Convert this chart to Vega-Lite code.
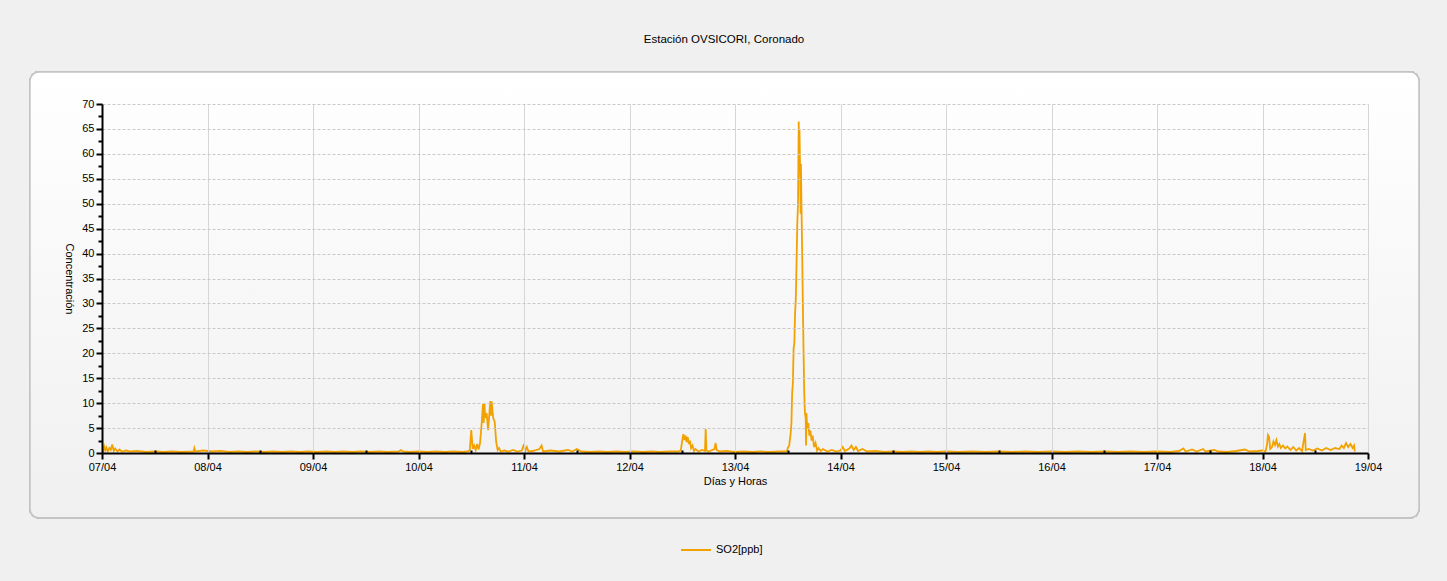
{
  "$schema": "https://vega.github.io/schema/vega-lite/v6.json",
  "width": 1266,
  "height": 349,
  "autosize": {"type": "none"},
  "padding": {"left": 102, "top": 104, "right": 79, "bottom": 128},
  "background": "#f0f0f0",
  "config": {
    "font": "Liberation Sans",
    "view": {"stroke": null},
    "axis": {"labelFont": "Liberation Sans", "titleFont": "Liberation Sans", "labelFontSize": 11, "titleFontSize": 11, "labelColor": "#000", "titleColor": "#000", "titleFontWeight": "normal", "domainColor": "#000", "domainWidth": 2, "tickColor": "#000", "tickWidth": 2, "zindex": 1}
  },
  "title": {"text": "Estación OVSICORI, Coronado", "fontSize": 11.5, "fontWeight": "normal", "color": "#000", "font": "Liberation Sans", "anchor": "middle", "offset": 26, "dx": -11},
  "data": {"values": [
    {"t": "2024-04-07T00:00", "v": 0.9},
    {"t": "2024-04-07T00:15", "v": 0.4},
    {"t": "2024-04-07T00:30", "v": 1.3},
    {"t": "2024-04-07T00:45", "v": 0.5},
    {"t": "2024-04-07T01:00", "v": 1.1},
    {"t": "2024-04-07T01:20", "v": 0.3},
    {"t": "2024-04-07T01:40", "v": 1.0},
    {"t": "2024-04-07T02:00", "v": 0.6},
    {"t": "2024-04-07T02:20", "v": 1.7},
    {"t": "2024-04-07T02:40", "v": 0.4},
    {"t": "2024-04-07T03:00", "v": 0.9},
    {"t": "2024-04-07T03:30", "v": 0.3},
    {"t": "2024-04-07T04:00", "v": 0.7},
    {"t": "2024-04-07T04:30", "v": 0.3},
    {"t": "2024-04-07T05:30", "v": 0.5},
    {"t": "2024-04-07T06:30", "v": 0.3},
    {"t": "2024-04-07T08:00", "v": 0.4},
    {"t": "2024-04-07T10:00", "v": 0.2},
    {"t": "2024-04-07T12:00", "v": 0.3},
    {"t": "2024-04-07T14:00", "v": 0.2},
    {"t": "2024-04-07T16:00", "v": 0.3},
    {"t": "2024-04-07T18:00", "v": 0.2},
    {"t": "2024-04-07T20:50", "v": 0.3},
    {"t": "2024-04-07T21:00", "v": 1.0},
    {"t": "2024-04-07T21:15", "v": 0.3},
    {"t": "2024-04-07T23:00", "v": 0.5},
    {"t": "2024-04-08T01:00", "v": 0.3},
    {"t": "2024-04-08T03:00", "v": 0.4},
    {"t": "2024-04-08T05:00", "v": 0.2},
    {"t": "2024-04-08T07:00", "v": 0.3},
    {"t": "2024-04-08T09:00", "v": 0.2},
    {"t": "2024-04-08T11:00", "v": 0.3},
    {"t": "2024-04-08T13:00", "v": 0.2},
    {"t": "2024-04-08T15:00", "v": 0.3},
    {"t": "2024-04-08T17:00", "v": 0.2},
    {"t": "2024-04-08T19:00", "v": 0.3},
    {"t": "2024-04-08T21:00", "v": 0.2},
    {"t": "2024-04-08T23:00", "v": 0.3},
    {"t": "2024-04-09T01:00", "v": 0.2},
    {"t": "2024-04-09T03:00", "v": 0.3},
    {"t": "2024-04-09T05:00", "v": 0.2},
    {"t": "2024-04-09T07:00", "v": 0.3},
    {"t": "2024-04-09T09:00", "v": 0.2},
    {"t": "2024-04-09T11:00", "v": 0.3},
    {"t": "2024-04-09T13:00", "v": 0.2},
    {"t": "2024-04-09T15:00", "v": 0.3},
    {"t": "2024-04-09T17:00", "v": 0.2},
    {"t": "2024-04-09T19:30", "v": 0.3},
    {"t": "2024-04-09T20:00", "v": 0.6},
    {"t": "2024-04-09T20:30", "v": 0.3},
    {"t": "2024-04-09T22:00", "v": 0.2},
    {"t": "2024-04-10T00:00", "v": 0.3},
    {"t": "2024-04-10T02:00", "v": 0.2},
    {"t": "2024-04-10T04:00", "v": 0.3},
    {"t": "2024-04-10T06:00", "v": 0.2},
    {"t": "2024-04-10T08:00", "v": 0.3},
    {"t": "2024-04-10T10:00", "v": 0.2},
    {"t": "2024-04-10T11:00", "v": 0.3},
    {"t": "2024-04-10T11:40", "v": 0.5},
    {"t": "2024-04-10T12:00", "v": 4.6},
    {"t": "2024-04-10T12:20", "v": 0.8},
    {"t": "2024-04-10T12:40", "v": 1.5},
    {"t": "2024-04-10T13:00", "v": 0.6},
    {"t": "2024-04-10T13:20", "v": 1.8},
    {"t": "2024-04-10T13:40", "v": 0.7},
    {"t": "2024-04-10T14:00", "v": 2.0},
    {"t": "2024-04-10T14:20", "v": 5.5},
    {"t": "2024-04-10T14:40", "v": 9.8},
    {"t": "2024-04-10T14:50", "v": 6.0},
    {"t": "2024-04-10T15:00", "v": 10.0},
    {"t": "2024-04-10T15:10", "v": 7.0},
    {"t": "2024-04-10T15:30", "v": 8.0},
    {"t": "2024-04-10T15:50", "v": 4.6},
    {"t": "2024-04-10T16:00", "v": 6.5},
    {"t": "2024-04-10T16:20", "v": 10.4},
    {"t": "2024-04-10T16:30", "v": 7.5},
    {"t": "2024-04-10T16:40", "v": 10.3},
    {"t": "2024-04-10T16:50", "v": 8.5},
    {"t": "2024-04-10T17:00", "v": 7.0},
    {"t": "2024-04-10T17:20", "v": 6.3},
    {"t": "2024-04-10T17:40", "v": 2.3},
    {"t": "2024-04-10T18:00", "v": 0.6},
    {"t": "2024-04-10T18:20", "v": 1.0},
    {"t": "2024-04-10T18:40", "v": 0.3},
    {"t": "2024-04-10T19:30", "v": 0.5},
    {"t": "2024-04-10T20:30", "v": 0.3},
    {"t": "2024-04-10T21:30", "v": 0.6},
    {"t": "2024-04-10T22:30", "v": 0.3},
    {"t": "2024-04-10T23:30", "v": 0.5},
    {"t": "2024-04-11T00:00", "v": 1.8},
    {"t": "2024-04-11T00:15", "v": 0.3},
    {"t": "2024-04-11T00:40", "v": 1.2},
    {"t": "2024-04-11T01:00", "v": 0.3},
    {"t": "2024-04-11T02:00", "v": 0.4},
    {"t": "2024-04-11T03:30", "v": 0.8},
    {"t": "2024-04-11T04:00", "v": 1.5},
    {"t": "2024-04-11T04:20", "v": 0.3},
    {"t": "2024-04-11T06:00", "v": 0.5},
    {"t": "2024-04-11T08:00", "v": 0.3},
    {"t": "2024-04-11T10:00", "v": 0.6},
    {"t": "2024-04-11T11:00", "v": 0.3},
    {"t": "2024-04-11T12:00", "v": 0.8},
    {"t": "2024-04-11T13:00", "v": 0.3},
    {"t": "2024-04-11T15:00", "v": 0.2},
    {"t": "2024-04-11T17:00", "v": 0.3},
    {"t": "2024-04-11T19:00", "v": 0.2},
    {"t": "2024-04-11T21:00", "v": 0.3},
    {"t": "2024-04-11T23:00", "v": 0.2},
    {"t": "2024-04-12T01:00", "v": 0.3},
    {"t": "2024-04-12T03:00", "v": 0.2},
    {"t": "2024-04-12T05:00", "v": 0.3},
    {"t": "2024-04-12T07:00", "v": 0.2},
    {"t": "2024-04-12T09:00", "v": 0.3},
    {"t": "2024-04-12T11:00", "v": 0.3},
    {"t": "2024-04-12T11:40", "v": 0.5},
    {"t": "2024-04-12T12:00", "v": 2.5},
    {"t": "2024-04-12T12:15", "v": 3.8},
    {"t": "2024-04-12T12:30", "v": 2.6},
    {"t": "2024-04-12T12:45", "v": 3.5},
    {"t": "2024-04-12T13:00", "v": 2.2},
    {"t": "2024-04-12T13:15", "v": 3.2},
    {"t": "2024-04-12T13:30", "v": 1.8},
    {"t": "2024-04-12T13:45", "v": 2.5},
    {"t": "2024-04-12T14:00", "v": 1.0},
    {"t": "2024-04-12T14:20", "v": 1.5},
    {"t": "2024-04-12T14:40", "v": 0.4},
    {"t": "2024-04-12T15:00", "v": 0.8},
    {"t": "2024-04-12T15:40", "v": 0.3},
    {"t": "2024-04-12T16:30", "v": 0.6},
    {"t": "2024-04-12T17:10", "v": 0.4},
    {"t": "2024-04-12T17:20", "v": 4.8},
    {"t": "2024-04-12T17:30", "v": 0.5},
    {"t": "2024-04-12T18:00", "v": 0.3},
    {"t": "2024-04-12T19:20", "v": 0.8},
    {"t": "2024-04-12T19:35", "v": 2.0},
    {"t": "2024-04-12T19:50", "v": 0.6},
    {"t": "2024-04-12T20:30", "v": 0.3},
    {"t": "2024-04-12T22:00", "v": 0.4},
    {"t": "2024-04-13T00:00", "v": 0.2},
    {"t": "2024-04-13T02:00", "v": 0.3},
    {"t": "2024-04-13T04:00", "v": 0.2},
    {"t": "2024-04-13T06:00", "v": 0.3},
    {"t": "2024-04-13T08:00", "v": 0.2},
    {"t": "2024-04-13T10:00", "v": 0.3},
    {"t": "2024-04-13T11:30", "v": 0.3},
    {"t": "2024-04-13T11:50", "v": 0.4},
    {"t": "2024-04-13T12:00", "v": 1.0},
    {"t": "2024-04-13T12:20", "v": 1.5},
    {"t": "2024-04-13T12:40", "v": 4.0},
    {"t": "2024-04-13T12:50", "v": 6.0},
    {"t": "2024-04-13T13:00", "v": 12.0},
    {"t": "2024-04-13T13:10", "v": 14.0},
    {"t": "2024-04-13T13:20", "v": 21.0},
    {"t": "2024-04-13T13:30", "v": 22.0},
    {"t": "2024-04-13T13:40", "v": 28.0},
    {"t": "2024-04-13T13:50", "v": 31.0},
    {"t": "2024-04-13T14:00", "v": 38.0},
    {"t": "2024-04-13T14:10", "v": 46.0},
    {"t": "2024-04-13T14:20", "v": 50.0},
    {"t": "2024-04-13T14:30", "v": 66.5},
    {"t": "2024-04-13T14:35", "v": 60.0},
    {"t": "2024-04-13T14:40", "v": 65.0},
    {"t": "2024-04-13T14:50", "v": 55.0},
    {"t": "2024-04-13T14:55", "v": 48.0},
    {"t": "2024-04-13T15:00", "v": 58.0},
    {"t": "2024-04-13T15:05", "v": 52.0},
    {"t": "2024-04-13T15:15", "v": 42.0},
    {"t": "2024-04-13T15:25", "v": 31.0},
    {"t": "2024-04-13T15:35", "v": 21.0},
    {"t": "2024-04-13T15:45", "v": 12.0},
    {"t": "2024-04-13T15:55", "v": 8.0},
    {"t": "2024-04-13T16:05", "v": 7.0},
    {"t": "2024-04-13T16:10", "v": 1.5},
    {"t": "2024-04-13T16:15", "v": 8.0},
    {"t": "2024-04-13T16:25", "v": 5.0},
    {"t": "2024-04-13T16:40", "v": 6.0},
    {"t": "2024-04-13T16:55", "v": 3.5},
    {"t": "2024-04-13T17:10", "v": 4.5},
    {"t": "2024-04-13T17:25", "v": 2.5},
    {"t": "2024-04-13T17:40", "v": 3.5},
    {"t": "2024-04-13T18:00", "v": 1.2},
    {"t": "2024-04-13T18:20", "v": 2.0},
    {"t": "2024-04-13T18:40", "v": 0.5},
    {"t": "2024-04-13T19:00", "v": 1.0},
    {"t": "2024-04-13T19:30", "v": 0.4},
    {"t": "2024-04-13T20:00", "v": 0.8},
    {"t": "2024-04-13T21:00", "v": 0.3},
    {"t": "2024-04-13T22:00", "v": 0.6},
    {"t": "2024-04-13T23:00", "v": 0.3},
    {"t": "2024-04-14T00:00", "v": 0.5},
    {"t": "2024-04-14T00:30", "v": 1.2},
    {"t": "2024-04-14T01:00", "v": 0.4},
    {"t": "2024-04-14T02:00", "v": 0.9},
    {"t": "2024-04-14T02:30", "v": 1.5},
    {"t": "2024-04-14T03:00", "v": 0.6},
    {"t": "2024-04-14T03:30", "v": 1.2},
    {"t": "2024-04-14T04:00", "v": 0.4},
    {"t": "2024-04-14T05:00", "v": 0.8},
    {"t": "2024-04-14T06:00", "v": 0.3},
    {"t": "2024-04-14T08:00", "v": 0.4},
    {"t": "2024-04-14T10:00", "v": 0.2},
    {"t": "2024-04-14T12:00", "v": 0.3},
    {"t": "2024-04-14T14:00", "v": 0.2},
    {"t": "2024-04-14T16:00", "v": 0.3},
    {"t": "2024-04-14T18:00", "v": 0.2},
    {"t": "2024-04-14T20:00", "v": 0.3},
    {"t": "2024-04-14T22:00", "v": 0.2},
    {"t": "2024-04-15T00:00", "v": 0.3},
    {"t": "2024-04-15T03:00", "v": 0.2},
    {"t": "2024-04-15T06:00", "v": 0.3},
    {"t": "2024-04-15T09:00", "v": 0.2},
    {"t": "2024-04-15T12:00", "v": 0.3},
    {"t": "2024-04-15T15:00", "v": 0.2},
    {"t": "2024-04-15T18:00", "v": 0.3},
    {"t": "2024-04-15T21:00", "v": 0.2},
    {"t": "2024-04-16T00:00", "v": 0.3},
    {"t": "2024-04-16T03:00", "v": 0.2},
    {"t": "2024-04-16T06:00", "v": 0.3},
    {"t": "2024-04-16T09:00", "v": 0.2},
    {"t": "2024-04-16T12:00", "v": 0.3},
    {"t": "2024-04-16T15:00", "v": 0.2},
    {"t": "2024-04-16T18:00", "v": 0.3},
    {"t": "2024-04-16T21:00", "v": 0.2},
    {"t": "2024-04-17T00:00", "v": 0.3},
    {"t": "2024-04-17T03:00", "v": 0.2},
    {"t": "2024-04-17T05:00", "v": 0.4},
    {"t": "2024-04-17T06:00", "v": 0.9},
    {"t": "2024-04-17T06:30", "v": 0.3},
    {"t": "2024-04-17T08:00", "v": 0.7},
    {"t": "2024-04-17T09:00", "v": 0.3},
    {"t": "2024-04-17T10:30", "v": 0.8},
    {"t": "2024-04-17T11:00", "v": 0.3},
    {"t": "2024-04-17T13:00", "v": 0.6},
    {"t": "2024-04-17T14:00", "v": 0.3},
    {"t": "2024-04-17T16:00", "v": 0.2},
    {"t": "2024-04-17T18:00", "v": 0.4},
    {"t": "2024-04-17T20:00", "v": 0.7},
    {"t": "2024-04-17T21:00", "v": 0.3},
    {"t": "2024-04-17T23:00", "v": 0.4},
    {"t": "2024-04-18T00:00", "v": 0.5},
    {"t": "2024-04-18T00:40", "v": 0.3},
    {"t": "2024-04-18T01:00", "v": 1.5},
    {"t": "2024-04-18T01:15", "v": 3.6},
    {"t": "2024-04-18T01:30", "v": 3.2},
    {"t": "2024-04-18T01:45", "v": 0.8},
    {"t": "2024-04-18T02:10", "v": 1.2},
    {"t": "2024-04-18T02:30", "v": 2.3},
    {"t": "2024-04-18T02:50", "v": 1.6},
    {"t": "2024-04-18T03:10", "v": 2.6},
    {"t": "2024-04-18T03:30", "v": 1.3},
    {"t": "2024-04-18T03:50", "v": 1.8},
    {"t": "2024-04-18T04:10", "v": 1.0},
    {"t": "2024-04-18T04:40", "v": 1.5},
    {"t": "2024-04-18T05:10", "v": 0.9},
    {"t": "2024-04-18T05:40", "v": 1.3},
    {"t": "2024-04-18T06:20", "v": 0.6},
    {"t": "2024-04-18T07:00", "v": 1.2},
    {"t": "2024-04-18T07:40", "v": 0.5},
    {"t": "2024-04-18T08:20", "v": 1.0},
    {"t": "2024-04-18T09:00", "v": 0.4},
    {"t": "2024-04-18T09:40", "v": 4.0},
    {"t": "2024-04-18T09:50", "v": 0.6},
    {"t": "2024-04-18T10:30", "v": 0.8},
    {"t": "2024-04-18T11:30", "v": 0.5},
    {"t": "2024-04-18T12:30", "v": 0.9},
    {"t": "2024-04-18T13:30", "v": 0.5},
    {"t": "2024-04-18T14:30", "v": 1.0},
    {"t": "2024-04-18T15:30", "v": 0.6},
    {"t": "2024-04-18T16:30", "v": 1.0},
    {"t": "2024-04-18T17:30", "v": 0.8},
    {"t": "2024-04-18T18:00", "v": 1.5},
    {"t": "2024-04-18T18:30", "v": 1.0},
    {"t": "2024-04-18T19:00", "v": 2.0},
    {"t": "2024-04-18T19:30", "v": 1.2},
    {"t": "2024-04-18T20:00", "v": 1.8},
    {"t": "2024-04-18T20:30", "v": 1.0},
    {"t": "2024-04-18T20:50", "v": 1.5},
    {"t": "2024-04-18T21:00", "v": 0.3}
  ]},
  "resolve": {"axis": {"x": "independent", "y": "independent"}},
  "layer": [
    {
      "mark": {"type": "rect", "clip": false, "cornerRadius": 9, "stroke": "#c4c4c4", "strokeWidth": 1.5,
        "fill": {"gradient": "linear", "x1": 0, "y1": 0, "x2": 0, "y2": 1, "stops": [{"offset": 0, "color": "#ffffff"}, {"offset": 1, "color": "#f0f0f0"}]}},
      "encoding": {
        "x": {"datum": {"year": 2024, "month": 4, "date": 6, "hours": 7, "minutes": 37}, "type": "temporal", "axis": null,
          "scale": {"domain": [{"year": 2024, "month": 4, "date": 7}, {"year": 2024, "month": 4, "date": 19}], "nice": false}},
        "x2": {"datum": {"year": 2024, "month": 4, "date": 19, "hours": 11, "minutes": 36}},
        "y": {"datum": 76.4, "type": "quantitative", "axis": null, "scale": {"domain": [0, 70], "nice": false, "zero": true}},
        "y2": {"datum": -13.0}
      }
    },
    {
      "mark": {"type": "line", "strokeWidth": 1.8, "interpolate": "linear", "clip": true},
      "encoding": {
        "x": {"field": "t", "type": "temporal",
          "scale": {"domain": [{"year": 2024, "month": 4, "date": 7}, {"year": 2024, "month": 4, "date": 19}], "nice": false},
          "axis": {"title": "Días y Horas", "orient": "bottom", "tickCount": "day", "format": "%d/%m", "zindex": 2,
            "tickSize": 6, "grid": true, "gridColor": "#d6d6d6", "gridWidth": 1,
            "labelPadding": 2, "titlePadding": 3, "labelFlush": false, "labelOverlap": false}},
        "y": {"field": "v", "type": "quantitative",
          "scale": {"domain": [0, 70], "nice": false, "zero": true},
          "axis": {"title": "Concentración", "orient": "left", "titleAngle": 90, "zindex": 2, "values": [0, 5, 10, 15, 20, 25, 30, 35, 40, 45, 50, 55, 60, 65, 70],
            "tickSize": 6, "grid": true, "gridColor": "#c8c8c8", "gridDash": [3, 2],
            "labelPadding": 2, "titlePadding": 18, "labelOverlap": false}},
        "color": {"datum": "SO2[ppb]", "type": "nominal",
          "scale": {"range": ["#f2a200"]},
          "legend": {"title": null, "orient": "none", "legendX": 578, "legendY": 430, "symbolType": "stroke", "symbolSize": 900, "symbolStrokeWidth": 2, "labelFont": "Liberation Sans", "labelFontSize": 11, "labelColor": "#000"}}
      }
    },
    {
      "mark": {"type": "line", "strokeOpacity": 0},
      "encoding": {
        "x": {"field": "t", "type": "temporal",
          "axis": {"title": null, "orient": "bottom", "zindex": 2, "values": [
            {"year": 2024, "month": 4, "date": 7, "hours": 12}, {"year": 2024, "month": 4, "date": 8, "hours": 12},
            {"year": 2024, "month": 4, "date": 9, "hours": 12}, {"year": 2024, "month": 4, "date": 10, "hours": 12},
            {"year": 2024, "month": 4, "date": 11, "hours": 12}, {"year": 2024, "month": 4, "date": 12, "hours": 12},
            {"year": 2024, "month": 4, "date": 13, "hours": 12}, {"year": 2024, "month": 4, "date": 14, "hours": 12},
            {"year": 2024, "month": 4, "date": 15, "hours": 12}, {"year": 2024, "month": 4, "date": 16, "hours": 12},
            {"year": 2024, "month": 4, "date": 17, "hours": 12}, {"year": 2024, "month": 4, "date": 18, "hours": 12}],
            "labels": false, "domain": false, "grid": false, "tickSize": -3, "tickWidth": 2}},
        "y": {"field": "v", "type": "quantitative",
          "axis": {"title": null, "orient": "left", "zindex": 2, "values": [2.5, 7.5, 12.5, 17.5, 22.5, 27.5, 32.5, 37.5, 42.5, 47.5, 52.5, 57.5, 62.5, 67.5],
            "labels": false, "domain": false, "grid": false, "tickSize": 4}}
      }
    }
  ]
}
